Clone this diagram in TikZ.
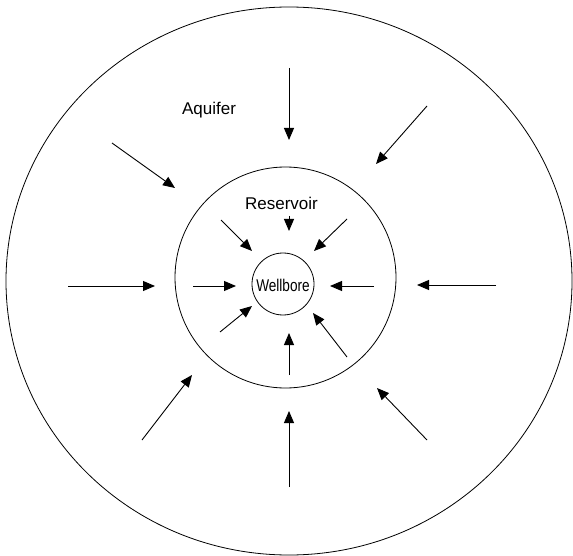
\documentclass[tikz,border=0pt]{standalone}
\usepackage{fontspec}
\setmainfont{Liberation Sans}
\usetikzlibrary{arrows.meta,shapes.geometric}
\tikzset{
  ring/.style={draw, line width=0.8pt, inner sep=0pt, outer sep=0pt},
  flow/.style={line width=0.9pt, -{Triangle[length=12pt,width=10pt]}},
  lbl/.style={font=\fontsize{17}{20}\selectfont, inner sep=0pt}
}
\begin{document}
\begin{tikzpicture}[x=1pt,y=-1pt]
\useasboundingbox (0,0) rectangle (573,556);
% zones
\node[ring, ellipse, minimum width=566pt, minimum height=548pt] (aquifer) at (289,281) {};
\node[ring, circle, minimum size=221pt] (reservoir) at (285.5,277.5) {};
\node[ring, circle, minimum size=62pt] (wellbore) at (283,284) {};
% labels
\node[lbl] (aqlbl) at (209,110) {Aquifer};
\node[lbl] (reslbl) at (281.5,203) {Reservoir};
\node[lbl] (wblbl) at (283,285) {\scalebox{0.8}[1]{Wellbore}};
% arrow end points
\foreach \n/\sx/\sy/\ex/\ey in {
  o1/289/68/289/140, o2/112/143/175/188, o3/427/106/376/164,
  o4/68/286/155/286, o5/496/285/417/285, o6/142/440/192/375,
  o7/289/487/289/411, o8/427/440/377/388,
  i1/289/216/289/231, i2/221/220/252/251, i3/347/219/314/251,
  i4/193/286/236/286, i5/374/286/330/286, i6/220/332/252/306,
  i7/347/357/313/313, i8/289/375/289/333}{
  \coordinate (\n s) at (\sx,\sy);
  \coordinate (\n e) at (\ex,\ey);
}
\foreach \n in {o1,o2,o3,o4,o5,o6,o7,o8,i1,i2,i3,i4,i5,i6,i7,i8}{
  \draw[flow] (\n s) -- (\n e);
}
\end{tikzpicture}
\end{document}
